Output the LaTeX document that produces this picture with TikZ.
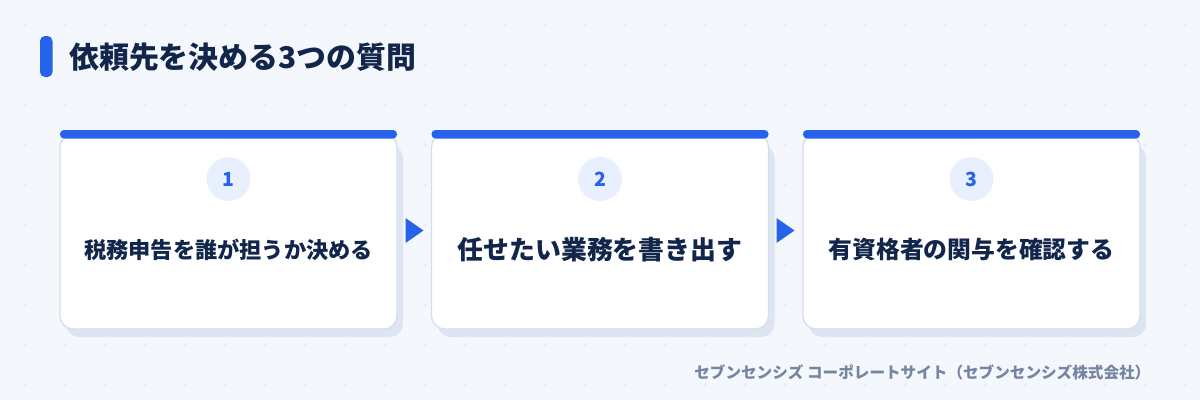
\documentclass[tikz,border=0pt]{standalone}
\usepackage{fontspec}
\newfontfamily\jp{Noto Sans CJK JP}
\definecolor{bg}{HTML}{F4F7FC}
\definecolor{plusc}{HTML}{DFE5F1}
\definecolor{accent}{HTML}{2563EB}
\definecolor{navy}{HTML}{11264A}
\definecolor{cardborder}{HTML}{D3DEEE}
\definecolor{cardshadow}{HTML}{DDE5F1}
\definecolor{circfill}{HTML}{E8F0FD}
\definecolor{footc}{HTML}{7585A2}
\tikzset{
  cardbody/.style={draw=cardborder, line width=1.3pt, fill=white, rounded corners=13pt},
  cardshad/.style={fill=cardshadow, rounded corners=13pt},
  topbar/.style={fill=accent, rounded corners=4pt},
  numcirc/.style={circle, fill=circfill, minimum size=44pt, inner sep=0pt, text=accent, font=\jp\bfseries\fontsize{19.5}{19.5}\selectfont},
  cardtext/.style={text=navy, inner sep=0pt},
  arrowtri/.style={fill=accent},
}
\begin{document}
\begin{tikzpicture}[x=1pt,y=-1pt]
\useasboundingbox (0,0) rectangle (1200,400);
\fill[bg] (0,0) rectangle (1200,400);
% plus grid
\foreach \i in {0,...,29}{
  \foreach \j in {0,...,9}{
    \pgfmathsetmacro{\px}{25+40*\i}
    \pgfmathsetmacro{\py}{25+40*\j}
    \pgfmathparse{(\j==1 && \i<10) ? 1 : 0}
    \ifnum\pgfmathresult=0
      \draw[plusc, line width=0.9pt] (\px-1.6,\py) -- (\px+1.6,\py) (\px,\py-1.6) -- (\px,\py+1.6);
    \fi
  }
}
% title
\fill[accent, rounded corners=5pt] (40,36) rectangle (52.5,77);
\node[anchor=west, text=navy, inner sep=0pt, font=\jp\bfseries\fontsize{29.9}{29.9}\selectfont] (title) at (69,57.5) {依頼先を決める3つの質問};
% cards
\foreach \n/\cx/\txt/\fs in {1/228.5/税務申告を誰が担うか決める/22.2, 2/600/任せたい業務を書き出す/25.9, 3/971.5/有資格者の関与を確認する/23.8}{
  \fill[cardshad] (\cx-168.5+6,137+8) rectangle (\cx+168.5+6,329+8);
  \draw[cardbody] (\cx-168.5,134) rectangle (\cx+168.5,329);
  \fill[topbar] (\cx-168.5,130) rectangle (\cx+168.5,138.5);
  \node[numcirc] (num\n) at (\cx,179) {\n};
  \node[cardtext, font=\jp\bfseries\fontsize{\fs}{\fs}\selectfont] (label\n) at (\cx,249.5) {\txt};
}
% arrows
\foreach \ax in {414.5,785.5}{
  \fill[arrowtri] (\ax-9,218) -- (\ax+9,230.5) -- (\ax-9,243) -- cycle;
}
% footer
\node[anchor=east, text=footc, inner sep=0pt, font=\jp\bfseries\fontsize{15.6}{15.6}\selectfont] (footer) at (1150.5,372) {セブンセンシズ コーポレートサイト（セブンセンシズ株式会社）};
\end{tikzpicture}
\end{document}
